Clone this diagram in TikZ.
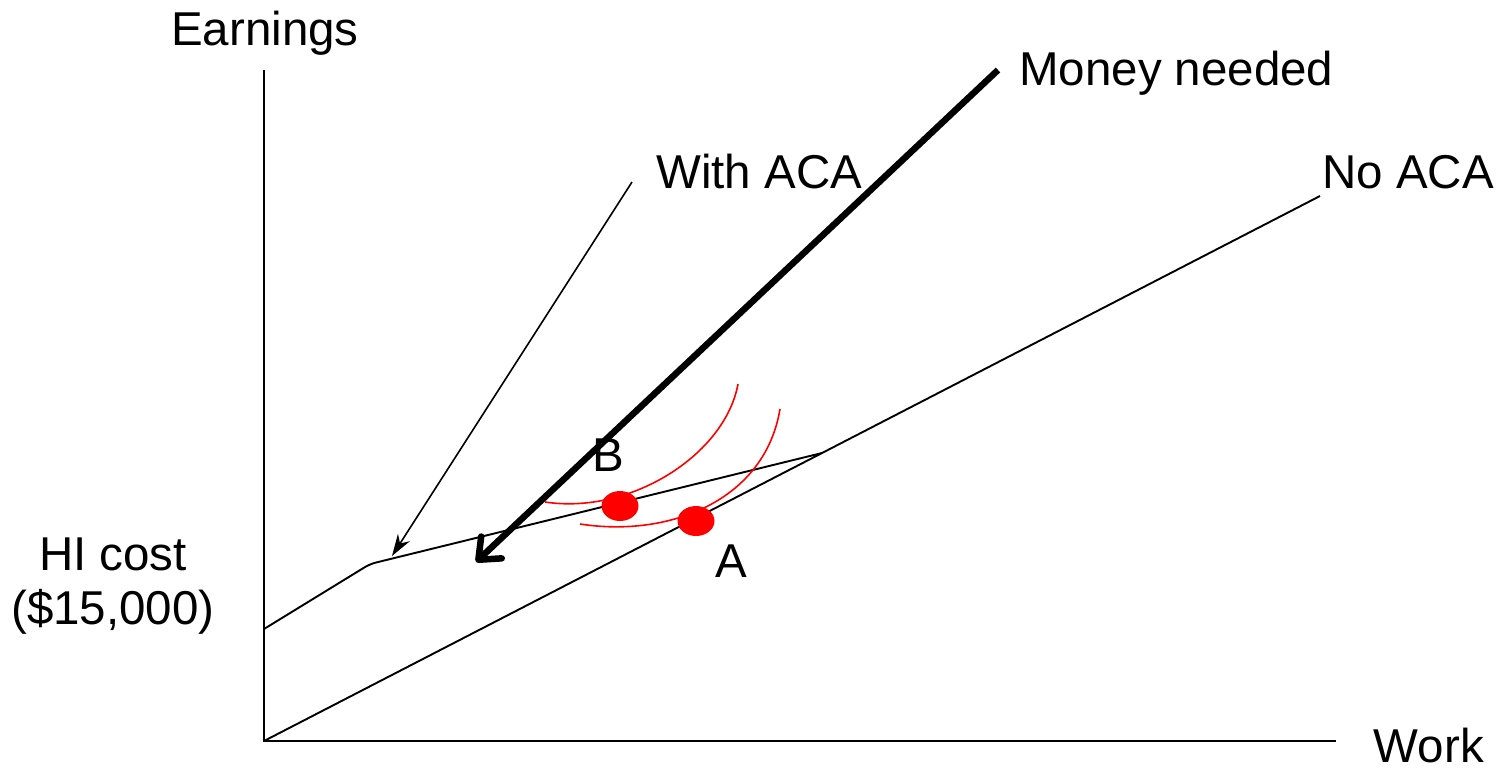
\documentclass[tikz,border=0pt]{standalone}
\usepackage{fontspec}
\setmainfont{Liberation Sans}
\usetikzlibrary{arrows.meta,shapes.geometric}
\begin{document}
\begin{tikzpicture}[x=1pt,y=-1pt,
  lbl/.style={inner sep=0pt,font=\fontsize{47.5}{52}\selectfont},
  axis/.style={line width=2pt},
  budget/.style={line width=1.9pt},
  indiff/.style={draw=red,line width=1.6pt},
  dot/.style={ellipse,fill=red,minimum width=37pt,minimum height=30pt,inner sep=0pt}]
\useasboundingbox (0,0) rectangle (1497,769);
% axes
\coordinate (O) at (264,741);
\coordinate (ytop) at (264,70);
\coordinate (xend) at (1336,741);
\draw[axis] (ytop) -- (O) -- (xend);
% budget lines
\coordinate (noaca) at (1320,196);
\coordinate (hi) at (264,629);
\coordinate (kink) at (370,564);
\coordinate (meet) at (822,453);
\draw[budget] (O) -- (noaca);
\draw[budget,rounded corners=6pt] (hi) -- (kink) -- (meet);
% indifference curves
\draw[indiff] (545,502) .. controls (630,515) and (725,455) .. (738,384);
\draw[indiff] (580,524) .. controls (670,538) and (765,500) .. (780,409);
% dots
\node[dot] (B) at (620,506) {};
\node[dot] (A) at (696,521) {};
% arrows
\coordinate (wa0) at (632,182);
\coordinate (wa1) at (392,556);
\draw[line width=1.6pt,-{Stealth[length=22pt,width=14pt]}] (wa0) -- (wa1);
\coordinate (mn0) at (998,70);
\coordinate (mn1) at (476,562);
\draw[line width=6.5pt,-{Straight Barb[length=18pt,width=30pt,round]}] (mn0) -- (mn1);
% labels
\node[lbl,anchor=base] (tE) at (265,45) {Earnings};
\node[lbl,anchor=base west] (tM) at (1019,85) {Money needed};
\node[lbl,anchor=base west] (tW) at (656,188) {With ACA};
\node[lbl,anchor=base west] (tN) at (1322,188) {No ACA};
\node[lbl,anchor=base] (tB) at (608,471) {B};
\node[lbl,anchor=base] (tA) at (731,577) {A};
\node[lbl,anchor=base] (tH) at (113,570) {HI cost};
\node[lbl,anchor=base] (tC) at (113,624) {(\$15,000)};
\node[lbl,anchor=base east] (tX) at (1484,762) {Work};
\end{tikzpicture}
\end{document}
